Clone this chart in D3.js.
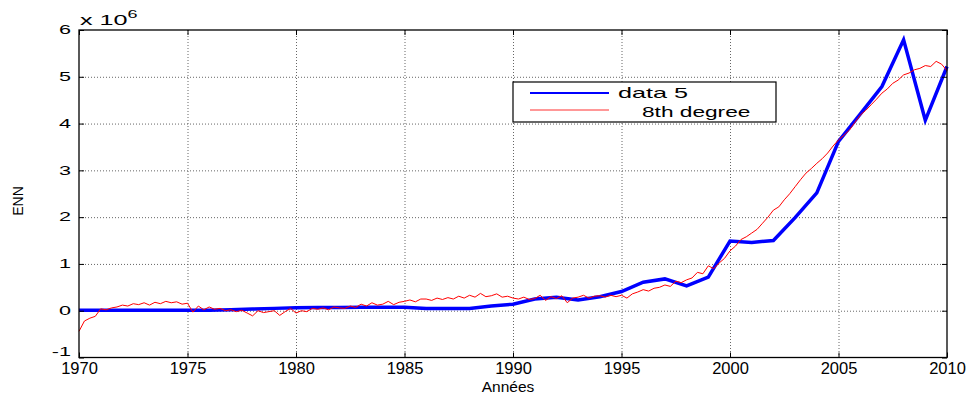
<!DOCTYPE html>
<html>
<head>
<meta charset="utf-8">
<script src="https://cdn.jsdelivr.net/npm/d3@7"></script>
<style>
    body { margin: 0; background: #fff; }
    text { font-family: Arial, "Liberation Sans", Helvetica, sans-serif; fill: #000; }
</style>
</head>
<body>
<div id="chart"></div>
<script>
// yearly series ("data 5"), x 10^6
const dataYears = [1970, 1971, 1972, 1973, 1974, 1975, 1976, 1977, 1978, 1979,
    1980, 1981, 1982, 1983, 1984, 1985, 1986, 1987, 1988, 1989,
    1990, 1991, 1992, 1993, 1994, 1995, 1996, 1997, 1998, 1999,
    2000, 2001, 2002, 2003, 2004, 2005, 2006, 2007, 2008, 2009, 2010];
const dataValues = [0.01, 0.01, 0.01, 0.01, 0.01, 0.01, 0.01, 0.02, 0.035, 0.05,
    0.065, 0.07, 0.07, 0.075, 0.075, 0.075, 0.05, 0.05, 0.05, 0.10,
    0.14, 0.25, 0.29, 0.23, 0.30, 0.41, 0.61, 0.68, 0.53, 0.72,
    1.49, 1.46, 1.50, 1.99, 2.52, 3.62, 4.20, 4.79, 5.79, 4.07, 5.22];

// quarterly fit ("8th degree"), starts 1970.0, one value every quarter
const fitStart = 1970;
const fitValues = [
    -0.44, -0.22, -0.16, -0.12,   // 1970
    0.04, 0.02, 0.06, 0.08,       // 1971
    0.12, 0.10, 0.15, 0.13,       // 1972
    0.17, 0.12, 0.18, 0.15,       // 1973
    0.20, 0.17, 0.19, 0.14,       // 1974
    0.16, -0.03, 0.10, 0.02,      // 1975
    0.08, 0.03, 0.05, 0.00,       // 1976
    0.02, -0.02, 0.01, -0.05,     // 1977
    -0.11, 0.00, -0.04, -0.02,    // 1978
    0.00, -0.10, -0.02, 0.05,     // 1979
    -0.05, 0.00, -0.02, 0.05,     // 1980
    0.03, 0.06, 0.02, 0.08,       // 1981
    0.06, 0.05, 0.10, 0.07,       // 1982
    0.14, 0.10, 0.17, 0.12,       // 1983
    0.14, 0.20, 0.13, 0.18,       // 1984
    0.20, 0.23, 0.19, 0.25,       // 1985
    0.25, 0.22, 0.27, 0.24,       // 1986
    0.28, 0.25, 0.31, 0.27,       // 1987
    0.33, 0.29, 0.37, 0.30,       // 1988
    0.32, 0.36, 0.29, 0.31,       // 1989
    0.27, 0.25, 0.29, 0.24,       // 1990
    0.26, 0.33, 0.22, 0.30,       // 1991
    0.26, 0.32, 0.17, 0.27,       // 1992
    0.29, 0.33, 0.27, 0.31,       // 1993
    0.32, 0.29, 0.33, 0.30,       // 1994
    0.33, 0.27, 0.36, 0.40,       // 1995
    0.45, 0.42, 0.48, 0.50,       // 1996
    0.55, 0.52, 0.63, 0.60,       // 1997
    0.66, 0.70, 0.82, 0.79,       // 1998
    0.96, 0.90, 1.02, 1.12,       // 1999
    1.28, 1.38, 1.52, 1.58,       // 2000
    1.66, 1.74, 1.87, 2.00,       // 2001
    2.15, 2.22, 2.37, 2.50,       // 2002
    2.65, 2.80, 2.94, 3.04,       // 2003
    3.15, 3.25, 3.37, 3.52,       // 2004
    3.65, 3.75, 3.86, 4.02,       // 2005
    4.18, 4.28, 4.40, 4.52,       // 2006
    4.65, 4.74, 4.86, 4.93,       // 2007
    5.04, 5.08, 5.15, 5.18,       // 2008
    5.24, 5.22, 5.33, 5.27,       // 2009
    5.13                          // 2010
];

const xTicks = [1970, 1975, 1980, 1985, 1990, 1995, 2000, 2005, 2010];
const yTicks = [-1, 0, 1, 2, 3, 4, 5, 6];
const seriesNames = ['data 5', '8th degree'];

const svg = d3.select('#chart').append('svg').attr('width', 978).attr('height', 396);
const margin = {top: 30, right: 31, bottom: 38.5, left: 79};
const width = 978 - margin.left - margin.right;
const height = 396 - margin.top - margin.bottom;
const stretch = 1.8; // the y labels / legend are drawn wide in the original

const g = svg.append('g').attr('transform', `translate(${margin.left},${margin.top})`);

const x = d3.scaleLinear().domain([1970, 2010]).range([0, width]);
const y = d3.scaleLinear().domain([-1, 6]).range([height, 0]);

// dotted grid
g.append('g').attr('class', 'grid')
    .call(d3.axisBottom(x).tickValues(xTicks.slice(1, -1)).tickSize(height).tickFormat(''));
g.append('g').attr('class', 'grid')
    .call(d3.axisLeft(y).tickValues(yTicks.slice(1, -1)).tickSize(-width).tickFormat(''));
g.selectAll('.grid .domain').remove();
g.selectAll('.grid line')
    .attr('stroke', '#555')
    .attr('stroke-width', 0.9)
    .attr('stroke-dasharray', '1,2');

// series
const dataPts = dataYears.map((yr, i) => [yr, dataValues[i]]);
const fitPts = fitValues.map((v, i) => [fitStart + i / 4, v]);
const line = d3.line().x(d => x(d[0])).y(d => y(d[1]));

g.append('path')
    .datum(dataPts)
    .attr('d', line)
    .attr('fill', 'none')
    .attr('stroke', '#0000ff')
    .attr('stroke-width', 3.5);

g.append('path')
    .datum(fitPts)
    .attr('d', line)
    .attr('fill', 'none')
    .attr('stroke', '#ff0000')
    .attr('stroke-width', 1);

// axes with inner ticks on all four sides
const xAxis = g.append('g').attr('transform', `translate(0,${height})`)
    .call(d3.axisBottom(x).tickValues(xTicks).tickFormat(d => String(d)).tickSizeInner(-5).tickSizeOuter(0).tickPadding(5));
xAxis.selectAll('text').style('font-size', '16.5px');

const yAxis = g.append('g')
    .call(d3.axisLeft(y).tickValues(yTicks).tickFormat(d => String(d)).tickSizeInner(-5).tickSizeOuter(0).tickPadding(7));
yAxis.selectAll('text')
    .style('font-size', '12px')
    .attr('x', -8 / stretch)
    .attr('transform', `scale(${stretch},1)`);
// lift the bottom label so it clears the year below
yAxis.selectAll('text').filter(d => d === yTicks[0]).attr('dy', '-0.15em');

g.append('g')
    .call(d3.axisTop(x).tickValues(xTicks).tickFormat('').tickSizeInner(-5).tickSizeOuter(0));
g.append('g').attr('transform', `translate(${width},0)`)
    .call(d3.axisRight(y).tickValues(yTicks).tickFormat('').tickSizeInner(-5).tickSizeOuter(0));

g.selectAll('.domain').remove();
g.selectAll('.tick line').filter(function () { return !this.closest('.grid'); })
    .attr('stroke', '#000');

g.append('rect')
    .attr('width', width)
    .attr('height', height)
    .attr('fill', 'none')
    .attr('stroke', '#000')
    .attr('stroke-width', 1.3);

// exponent
const expo = svg.append('text')
    .attr('transform', `translate(${margin.left + 1},25) scale(${stretch},1)`)
    .style('font-size', '14px');
expo.append('tspan').text('x 10');
expo.append('tspan').attr('dy', -7).style('font-size', '10px').text('6');

// axis titles
svg.append('text')
    .attr('x', 508)
    .attr('y', 392)
    .attr('text-anchor', 'middle')
    .style('font-size', '15.5px')
    .text('Années');

svg.append('text')
    .attr('transform', 'translate(23,201) rotate(-90)')
    .attr('text-anchor', 'middle')
    .style('font-size', '14px')
    .text('ENN');

// legend
const legend = svg.append('g').attr('transform', 'translate(513,82)');
legend.append('rect')
    .attr('width', 263)
    .attr('height', 40)
    .attr('fill', '#fff')
    .attr('stroke', '#000')
    .attr('stroke-width', 1.2);

legend.append('line')
    .attr('x1', 17).attr('x2', 96).attr('y1', 11).attr('y2', 11)
    .attr('stroke', '#0000ff').attr('stroke-width', 2);
legend.append('line')
    .attr('x1', 17).attr('x2', 96).attr('y1', 28).attr('y2', 28)
    .attr('stroke', '#ff3030').attr('stroke-width', 1);

legend.append('text')
    .attr('transform', `translate(105,16) scale(${stretch},1)`)
    .style('font-size', '14px')
    .text(seriesNames[0]);
legend.append('text')
    .attr('transform', `translate(129,34.5) scale(1.62,1)`)
    .style('font-size', '14px')
    .text(seriesNames[1]);
</script>
</body>
</html>
